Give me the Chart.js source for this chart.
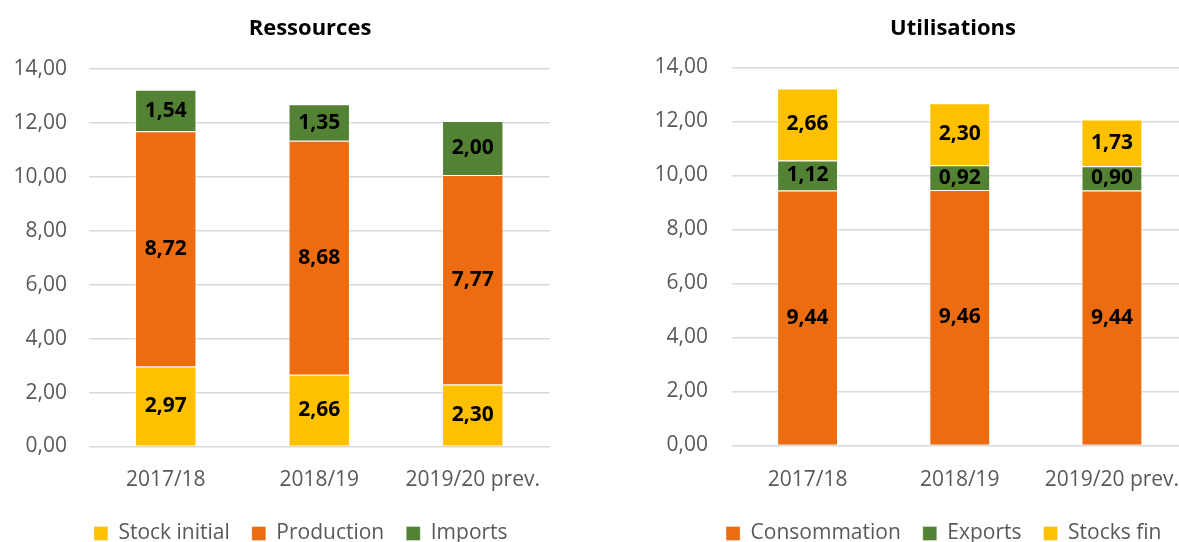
<!DOCTYPE html>
<html>
<head>
<meta charset="utf-8">
<script src="https://cdn.jsdelivr.net/npm/chart.js@4.4.1/dist/chart.umd.min.js"></script>
<style>
  html, body { margin: 0; padding: 0; background: #fff; overflow: hidden; width: 1179px; height: 542px; }
  canvas { position: absolute; top: 0; }
  #leftChart { left: 0; }
  #rightChart { left: 620px; }
</style>
</head>
<body>
<canvas id="leftChart" width="590" height="554"></canvas>
<canvas id="rightChart" width="598" height="554"></canvas>
<script>
const years = ['2017/18', '2018/19', '2019/20 prev.'];

// Ressources
const stockInitial = [2.97, 2.66, 2.30];
const production = [8.72, 8.68, 7.77];
const imports = [1.54, 1.35, 2.00];

// Utilisations
const consommation = [9.44, 9.46, 9.44];
const exportsData = [1.12, 0.92, 0.90];
const stocksFin = [2.66, 2.30, 1.73];

const yMax = 14;
const yStep = 2;

const YELLOW = '#FFC000';
const ORANGE = '#EC6C0F';
const GREEN = '#548235';

Chart.defaults.font.family = "'Open Sans', sans-serif";
Chart.defaults.font.size = 21;
Chart.defaults.color = '#595959';

function fmt(v) {
    return v.toFixed(2).replace('.', ',');
}

// value in the middle of every bar segment
const barLabels = {
    id: 'barLabels',
    afterDatasetsDraw(chart) {
        const ctx = chart.ctx;
        ctx.save();
        ctx.font = "bold 21px 'Open Sans', sans-serif";
        ctx.fillStyle = '#000';
        ctx.textAlign = 'center';
        ctx.textBaseline = 'middle';
        chart.data.datasets.forEach((ds, i) => {
            chart.getDatasetMeta(i).data.forEach((bar, j) => {
                const p = bar.getProps(['x', 'y', 'base'], true);
                ctx.fillText(fmt(ds.data[j]), p.x, (p.y + p.base) / 2);
            });
        });
        ctx.restore();
    }
};

// move title / legend sideways, the way Excel centres them
const nudge = {
    id: 'nudge',
    afterLayout(chart, args, opts) {
        chart.titleBlock.left += opts.title;
        chart.titleBlock.right += opts.title;
        chart.legend.left += opts.legend;
        chart.legend.right += opts.legend;
    }
};

function dataset(label, data, color) {
    return {
        label: label,
        data: data,
        backgroundColor: color,
        borderColor: 'rgba(255,255,255,0.35)',
        borderWidth: 1
    };
}

function makeChart(id, title, datasets, s) {
    const ctx = document.getElementById(id).getContext('2d');
    return new Chart(ctx, {
        type: 'bar',
        data: { labels: years, datasets: datasets },
        options: {
            responsive: false,
            animation: false,
            devicePixelRatio: 1,
            categoryPercentage: 1,
            barPercentage: 0.4,
            layout: { padding: { left: 0, right: s.padRight, top: 0, bottom: 0 } },
            plugins: {
                title: {
                    display: true,
                    text: title,
                    color: '#000',
                    font: { size: 22, weight: 'bold' },
                    padding: { top: 15.3, bottom: s.titleBottom }
                },
                legend: {
                    position: 'bottom',
                    align: 'center',
                    labels: {
                        boxWidth: 14,
                        boxHeight: 14,
                        padding: 22,
                        color: '#595959',
                        font: { size: 21 }
                    }
                },
                tooltip: { enabled: false },
                nudge: { title: s.titleDx, legend: s.legendDx }
            },
            scales: {
                x: {
                    stacked: true,
                    grid: { display: false, drawTicks: false },
                    border: { display: false },
                    ticks: { padding: s.xTickPad, maxRotation: 0, autoSkip: false, color: '#595959' },
                    afterFit(scale) { scale.height = s.xHeight; }
                },
                y: {
                    stacked: true,
                    min: 0,
                    max: yMax,
                    grid: { color: '#D9D9D9', lineWidth: 1.5, drawTicks: false },
                    border: { display: false },
                    ticks: {
                        stepSize: yStep,
                        padding: s.yTickPad,
                        color: '#595959',
                        callback: v => fmt(v)
                    },
                    afterFit(scale) { scale.width = s.yWidth; }
                }
            }
        },
        plugins: [barLabels, nudge]
    });
}

makeChart('leftChart', 'Ressources', [
    dataset('Stock initial', stockInitial, YELLOW),
    dataset('Production', production, ORANGE),
    dataset('Imports', imports, GREEN)
], { padRight: 40.5, titleBottom: 27.3, xHeight: 54.5, xTickPad: 21, yTickPad: 22, yWidth: 89, titleDx: 35.25, legendDx: 26 });

makeChart('rightChart', 'Utilisations', [
    dataset('Consommation', consommation, ORANGE),
    dataset('Exports', exportsData, GREEN),
    dataset('Stocks fin', stocksFin, YELLOW)
], { padRight: 30, titleBottom: 25.8, xHeight: 55.5, xTickPad: 22, yTickPad: 23.5, yWidth: 111.5, titleDx: 49, legendDx: 39.75 });
</script>
</body>
</html>
